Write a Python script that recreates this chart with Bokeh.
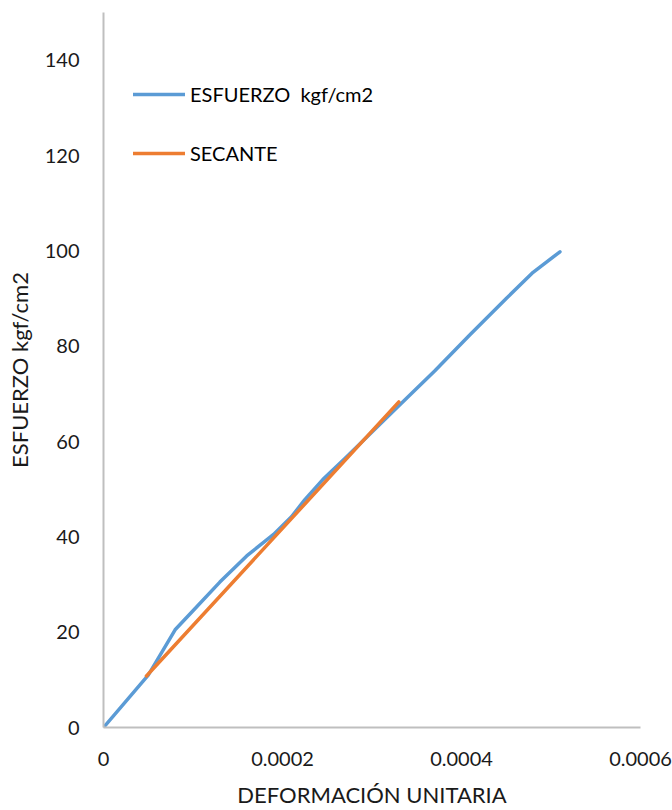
from bokeh.plotting import figure
from bokeh.models import Range1d, FixedTicker, CustomJSTickFormatter, Legend, LegendItem
from bokeh.embed import file_html
from bokeh.resources import INLINE

# Data
strain = [0, 0.00005, 0.00008, 0.0001, 0.00013, 0.00016, 0.00019, 0.00021, 0.000225,
          0.000245, 0.00027, 0.0003, 0.00033, 0.00037, 0.00041, 0.00045, 0.00048, 0.00051]
stress = [0, 11, 20.5, 24.5, 30.5, 36, 40.5, 44.2, 47.8, 52, 56.5, 62, 67.5, 74.8, 82.5,
          90, 95.5, 99.8]
secant_x = [0.000048, 0.00033]
secant_y = [10.8, 68.3]
x_ticks = [0, 0.0002, 0.0004, 0.0006]
y_ticks = [0, 20, 40, 60, 80, 100, 120, 140]

FONT = "Lato"
p = figure(width=672, height=810, output_backend="svg", toolbar_location=None,
           x_range=Range1d(0, 0.0006), y_range=Range1d(0, 150),
           min_border_left=103, min_border_right=32, min_border_top=12, min_border_bottom=83)
p.outline_line_color = None
p.xgrid.visible = False
p.ygrid.visible = False

for ax in (p.xaxis[0], p.yaxis[0]):
    ax.axis_line_color = "#bfbfbf"
    ax.axis_line_width = 2
    ax.major_tick_line_color = None
    ax.minor_tick_line_color = None
    ax.major_label_text_font = FONT
    ax.major_label_text_font_size = "20px"
    ax.major_label_text_color = "#1a1a1a"
    ax.axis_label_text_font = FONT
    ax.axis_label_text_font_size = "22px"
    ax.axis_label_text_font_style = "normal"
    ax.axis_label_text_color = "#1a1a1a"

p.xaxis.ticker = FixedTicker(ticks=x_ticks)
p.yaxis.ticker = FixedTicker(ticks=y_ticks)
p.xaxis.formatter = CustomJSTickFormatter(code="return tick == 0 ? '0' : tick.toFixed(4);")
p.xaxis.major_label_standoff = 18
p.yaxis.major_label_standoff = 18
p.xaxis.axis_label = "DEFORMACIÓN UNITARIA"
p.yaxis.axis_label = "ESFUERZO kgf/cm2"
p.xaxis.axis_label_standoff = 12
p.yaxis.axis_label_standoff = 9

r1 = p.line(strain, stress, line_color="#5b9bd5", line_width=3.5, line_join="round", line_cap="round")
r2 = p.line(secant_x, secant_y, line_color="#ed7d31", line_width=3.5, line_cap="round")

legend = Legend(items=[LegendItem(label="ESFUERZO  kgf/cm2", renderers=[r1]),
                       LegendItem(label="SECANTE", renderers=[r2])],
                location=(30, 562), padding=0, margin=0, spacing=35,
                glyph_width=52, glyph_height=22, label_height=22, label_standoff=5,
                border_line_color=None, background_fill_alpha=0,
                label_text_font=FONT, label_text_font_size="20px", label_text_color="#000000")
p.add_layout(legend)

open("out.html", "w").write(file_html(p, INLINE))
